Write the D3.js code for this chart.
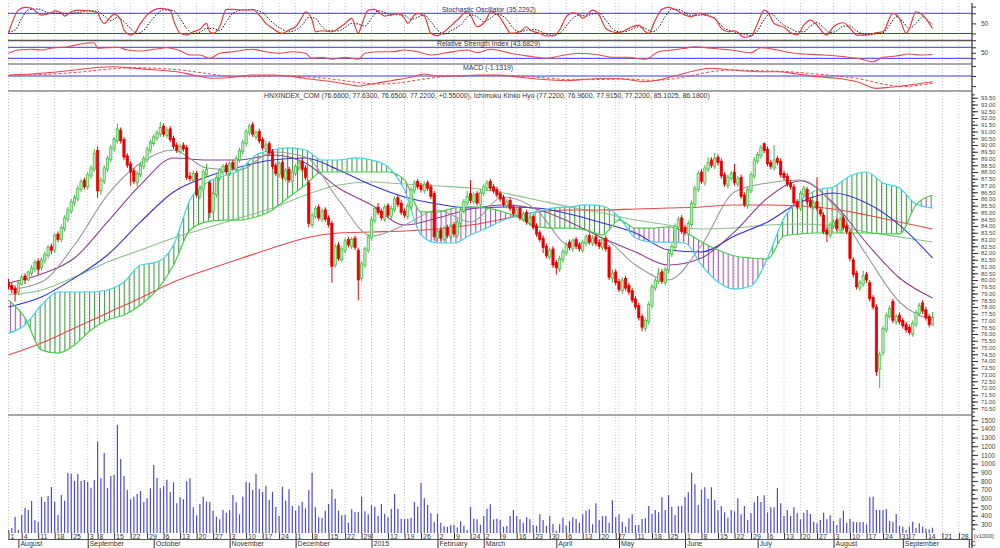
<!DOCTYPE html>
<html>
<head>
<meta charset="utf-8">
<script src="https://cdn.jsdelivr.net/npm/d3@7"></script>
<style>
  body { margin: 0; background: #fff; }
  svg { display: block; font-family: "Liberation Sans", Arial, sans-serif; }
</style>
</head>
<body>
<div id="chart"></div>
<script>
// ---- data ----
// market closed days (trading calendar)
var holidays = ["2014-09-01","2014-09-02","2015-01-01","2015-01-02","2015-02-16","2015-02-17","2015-02-18",
  "2015-02-19","2015-02-20","2015-02-23","2015-04-28","2015-04-29","2015-04-30","2015-05-01","2015-09-02","2015-09-03"];

// first trading day of each week ("" where the picture shows no label)
var weekLabels = ["1","4","11","18","25","3","8","15","22","29","6","13","20","27","3","10","17","24",
  "1","8","15","22","29","","12","19","26","2","9","24","2","9","16","23","30","6","13","20","27",
  "","11","18","25","1","8","15","22","29","6","13","20","27","3","10","17","24","31","7","14","21","28"];
var monthLabels = ["August","September","October","November","December","2015","February","March",
  "April","May","June","July","August","September","C"];

var opens = [79.8,79.6,79.4,79.1,79.7,80.3,80.0,80.5,80.8,81.4,
80.9,81.4,81.8,82.5,82.2,83.4,83.0,83.8,84.5,85.1,
85.7,86.0,86.7,87.4,86.9,87.7,88.2,89.6,86.6,87.3,
88.2,88.9,89.7,90.3,91.1,90.4,89.2,88.6,88.1,87.2,
87.8,88.4,88.9,89.6,90.1,90.5,90.8,91.4,90.7,91.2,
90.5,90.0,89.5,90.0,89.8,87.7,87.4,87.9,86.2,86.7,
87.8,87.2,85.1,86.3,87.5,88.0,88.5,87.9,88.7,88.2,
88.9,89.5,90.1,90.9,91.5,90.6,91.0,90.4,89.7,90.1,
89.5,88.5,87.8,88.7,87.5,88.2,87.3,87.9,88.3,88.8,
88.3,87.2,84.1,84.7,85.4,84.5,85.2,84.6,84.2,81.1,
82.6,81.5,82.2,83.0,82.5,83.1,82.2,80.1,81.1,82.2,
83.1,84.4,85.4,85.1,84.5,85.5,84.7,85.2,86.1,85.7,
85.1,84.7,85.4,86.6,87.3,87.0,86.6,87.2,86.9,86.4,
83.1,83.7,83.0,83.9,83.2,84.1,83.3,84.2,85.1,85.7,
86.4,85.8,86.4,85.6,86.4,86.8,87.3,86.9,86.7,86.4,
86.1,85.5,85.9,85.4,84.8,85.3,84.5,85.0,84.2,84.7,
84.0,83.5,83.1,82.5,81.7,82.3,81.3,80.8,81.5,82.0,
82.8,82.3,83.0,82.6,82.2,82.7,83.3,82.7,83.2,82.8,
82.4,83.1,82.4,80.1,80.6,79.9,79.2,80.1,79.6,79.2,
78.6,78.1,77.3,76.4,76.9,78.1,79.4,79.9,80.6,79.8,
80.7,81.9,82.4,83.9,84.6,83.9,83.4,84.1,85.6,86.7,
88.0,87.2,88.2,88.9,88.4,89.1,88.8,87.8,87.0,87.5,
88.0,87.1,87.6,86.3,85.5,86.6,87.7,88.8,89.2,90.1,
89.7,88.7,88.3,89.0,88.8,87.9,87.7,87.2,86.9,85.8,
85.3,86.3,86.7,85.9,85.4,85.8,85.2,84.8,83.7,83.3,
84.0,84.4,83.7,84.6,84.0,83.5,81.5,80.5,79.4,79.7,
80.4,79.8,78.7,78.0,73.4,74.6,76.3,77.3,78.4,76.9,
77.4,77.0,76.7,76.5,76.0,76.7,77.5,78.3,77.8,77.3,76.66];

var highs = [80.1,79.8,79.6,79.9,80.4,80.5,80.7,81.1,81.5,81.6,
81.7,82.1,82.6,82.7,83.5,83.6,84.1,84.8,85.4,86.0,
86.3,87.0,87.5,87.6,88.0,88.5,89.7,89.9,87.6,88.5,
89.2,90.0,90.6,91.6,91.3,90.6,89.4,88.8,88.3,88.1,
88.7,89.2,89.9,90.4,90.8,91.1,91.7,91.6,91.3,91.4,
90.7,90.2,90.1,90.2,90.0,88.0,88.1,88.1,87.0,88.2,
88.6,87.4,86.6,87.8,88.3,88.6,88.7,88.8,88.9,89.2,
89.8,90.4,91.2,91.6,91.7,91.1,91.2,90.6,90.3,90.3,
89.7,88.7,88.8,88.9,88.3,88.4,88.2,88.6,88.9,89.0,
88.5,87.4,85.0,85.5,85.6,85.3,85.4,84.8,84.4,82.7,
82.8,82.5,83.1,83.2,83.2,83.3,82.4,81.4,82.5,83.4,
84.7,85.5,85.7,85.3,85.6,85.7,85.5,86.2,86.3,85.9,
85.3,85.7,86.9,87.4,87.5,87.2,87.3,87.4,87.1,86.6,
83.8,83.9,84.0,84.1,84.2,84.3,84.5,85.4,86.0,86.6,
87.4,86.5,86.6,86.7,87.1,87.4,87.5,87.1,86.9,86.6,
86.3,86.0,86.1,85.6,85.4,85.5,85.1,85.2,84.8,84.9,
84.2,83.7,83.3,82.7,82.4,82.5,81.5,81.8,82.3,82.8,
83.0,83.1,83.2,82.8,83.0,83.4,83.5,83.3,83.4,83.0,
83.2,83.3,82.6,80.8,80.8,80.1,80.2,80.3,79.8,79.4,
78.8,78.3,77.5,77.2,78.4,79.7,80.2,80.9,80.8,81.0,
82.2,82.7,84.2,84.7,84.8,84.1,84.4,85.9,87.0,88.1,
88.2,88.5,89.1,89.1,89.4,89.3,89.0,88.0,87.8,88.1,
88.6,87.7,87.8,86.5,86.9,88.0,89.1,89.5,90.0,90.2,
89.9,88.9,90.0,89.2,89.0,88.1,87.9,87.4,87.1,86.0,
86.6,87.0,86.9,86.1,85.9,87.6,85.4,85.0,83.9,84.3,
84.5,84.6,84.7,84.8,84.2,83.7,81.7,80.7,80.0,80.7,
80.6,80.0,78.9,78.2,74.7,76.6,77.6,78.1,78.6,77.5,
77.6,77.2,76.9,76.7,77.0,77.8,78.3,78.5,78.0,77.5,77.63];

var lows = [79.3,79.0,78.4,78.9,79.6,79.7,79.9,80.3,80.6,80.4,
80.7,81.2,81.6,81.9,82.0,82.8,82.8,83.6,84.3,84.9,
85.5,85.8,86.5,86.7,86.7,87.5,88.0,86.1,86.3,87.1,
88.0,88.7,89.5,90.1,90.1,88.9,88.3,87.0,87.1,86.9,
87.6,88.2,88.7,89.4,89.9,90.3,90.6,90.6,90.5,90.2,
89.7,89.4,89.3,89.5,87.4,87.3,87.2,86.1,86.0,86.5,
87.6,84.6,84.9,86.1,87.3,87.8,87.8,87.7,88.1,88.0,
88.7,89.3,89.9,90.7,90.6,90.4,90.1,89.6,89.5,89.2,
88.2,87.7,87.6,87.4,87.3,87.2,87.1,87.7,88.1,88.0,
87.4,83.9,83.9,84.5,84.4,84.3,84.3,83.9,79.8,80.9,
81.4,81.3,82.0,82.4,82.3,82.2,78.5,79.9,80.9,82.0,
82.9,84.2,84.8,84.4,84.3,84.6,84.5,85.0,85.4,84.8,
84.6,84.5,85.2,86.4,86.7,86.5,86.4,86.6,86.0,82.9,
82.8,82.9,82.8,83.1,83.0,83.2,83.1,84.0,84.9,85.5,
85.7,85.6,85.5,85.4,86.2,86.6,86.6,86.4,86.1,85.8,
85.4,85.3,85.1,84.7,84.6,84.4,84.3,84.1,84.0,83.7,
83.2,82.8,82.0,81.6,81.5,80.9,80.4,80.6,81.3,81.8,
82.2,82.1,82.3,82.1,82.0,82.5,82.6,82.5,82.5,82.3,
82.2,82.1,80.0,79.8,79.6,79.1,79.0,79.2,78.9,78.3,
77.8,77.0,76.2,76.2,76.7,77.9,79.2,79.7,79.7,79.6,
80.5,81.7,82.2,83.7,83.4,83.3,83.2,83.9,85.4,86.5,
87.1,87.0,88.0,88.3,88.2,88.5,87.5,86.9,86.8,87.3,
87.0,86.9,86.0,85.4,85.3,86.4,87.5,88.6,89.0,89.4,
88.4,88.2,88.1,88.5,87.6,87.4,86.9,86.7,85.5,85.2,
85.1,86.1,85.6,85.3,85.2,85.1,84.7,83.4,82.8,83.1,
83.8,83.6,83.5,83.7,83.4,81.4,80.2,79.3,79.2,79.5,
79.8,78.4,77.8,72.9,72.0,74.4,76.1,77.1,76.8,76.7,
76.7,76.4,76.1,75.9,75.8,76.5,77.3,77.5,77.0,76.5,76.65];

var closes = [79.5,79.3,79.0,79.8,80.2,80.0,80.6,80.9,81.3,80.8,
81.5,81.9,82.4,82.2,83.3,83.0,83.9,84.6,85.2,85.8,
86.1,86.8,87.3,86.9,87.8,88.3,89.4,86.6,87.4,88.3,
89.0,89.8,90.4,91.2,90.3,89.1,88.5,88.0,87.3,87.9,
88.5,89.0,89.7,90.2,90.6,90.9,91.3,90.8,91.1,90.4,
89.9,89.6,89.9,89.7,87.6,87.5,87.9,86.3,86.8,88.0,
88.2,85.0,86.4,87.6,88.1,88.4,88.0,88.6,88.3,89.0,
89.6,90.2,91.0,91.4,90.8,90.9,90.3,89.8,90.0,89.4,
88.4,87.9,88.6,87.6,88.1,87.4,88.0,88.4,88.7,88.2,
87.6,84.2,84.8,85.3,84.6,85.1,84.5,84.1,81.0,82.5,
81.6,82.3,82.9,82.6,83.0,82.4,80.0,81.2,82.3,83.2,
84.5,85.3,85.0,84.6,85.4,84.8,85.3,86.0,85.6,85.0,
84.8,85.5,86.7,87.2,86.9,86.7,87.1,86.8,86.2,83.2,
83.6,83.1,83.8,83.3,84.0,83.4,84.3,85.2,85.8,86.2,
85.9,86.3,85.7,86.5,86.9,87.2,86.8,86.6,86.3,86.0,
85.6,85.8,85.3,84.9,85.2,84.6,84.9,84.3,84.6,83.9,
83.4,83.0,82.4,81.8,82.2,81.1,80.9,81.6,82.1,82.6,
82.4,82.9,82.5,82.3,82.8,83.2,82.8,83.1,82.7,82.5,
83.0,82.3,80.2,80.5,79.8,79.3,80.0,79.4,79.1,78.5,
78.0,77.2,76.5,77.0,78.2,79.5,80.0,80.5,79.9,80.8,
82.0,82.5,84.0,84.5,83.6,83.5,84.2,85.7,86.8,87.9,
87.3,88.3,88.7,88.5,89.0,88.7,87.7,87.1,87.6,87.9,
87.2,87.5,86.2,85.6,86.7,87.8,88.9,89.3,89.8,89.6,
88.6,88.4,88.9,88.7,87.8,87.6,87.1,86.9,85.7,85.4,
86.4,86.8,85.8,85.5,85.7,85.3,84.9,83.6,83.4,84.1,
84.3,83.8,84.5,83.9,83.6,81.6,80.4,79.5,79.8,80.3,
80.0,78.6,78.0,73.2,74.5,76.4,77.4,77.9,77.0,77.3,
76.9,76.6,76.3,76.1,76.8,77.6,78.1,77.7,77.2,76.7,77.22];

// volume, thousands
var volume = [235,258,388,235,407,488,465,569,350,330,
615,557,626,730,557,407,638,572,891,883,
800,880,800,810,787,722,810,1252,830,1121,
718,857,868,1444,1052,857,695,588,618,650,
684,557,600,715,983,834,715,742,815,672,
784,542,611,588,796,830,496,404,534,618,
561,557,457,388,358,465,434,465,638,553,
415,618,791,780,695,880,707,676,745,580,
676,500,396,733,572,703,511,457,515,561,
484,692,895,496,381,373,457,534,703,595,
457,404,407,319,473,442,442,618,450,415,519,
503,396,534,419,381,480,650,480,365,361,
365,376,557,503,780,600,523,427,327,419,
319,280,273,288,296,262,335,284,235,503,
365,358,296,396,480,531,358,365,
350,273,281,396,465,396,358,319,381,358,
292,284,415,350,284,400,304,226,300,376,
284,335,381,361,319,415,457,473,300,542,
350,396,400,319,577,381,415,330,273,369,
415,292,292,361,369,511,419,465,438,611,
465,638,503,407,507,515,611,669,895,761,
523,699,726,595,726,580,465,511,438,376,
465,450,600,415,511,350,427,553,626,557,
634,438,496,496,718,542,396,465,396,496,
427,358,434,465,419,330,311,350,434,358,
404,338,292,369,457,319,365,330,323,323,
327,300,611,618,465,465,465,476,338,330,
419,280,273,235,273,330,254,311,273,250,
240,261];

// Ichimoku cloud borders, one value every 5 trading days
var cloudStep = 5;
var senkouA = [76.07,76.67,78.15,79.11,79.11,79.11,79.26,79.85,81.11,81.33,82.59,85.93,87.19,87.70,88.15,
  89.26,89.63,89.78,89.63,88.89,88.89,89.04,88.89,88.37,86.67,83.33,82.74,82.74,83.33,83.85,84.44,84.81,
  85.04,85.33,85.41,85.56,85.48,84.67,83.11,82.81,82.81,82.74,81.11,79.85,79.33,79.56,81.63,84.59,85.93,
  86.67,86.89,87.70,88.00,87.19,86.81,85.63,85.33];
var senkouB = [78.52,77.19,74.81,74.59,75.19,76.30,77.04,77.41,78.15,79.26,81.11,83.70,84.30,84.44,84.44,
  84.67,85.19,86.15,87.04,88.00,88.00,88.00,88.00,88.00,87.41,85.04,85.04,85.33,85.41,85.33,85.04,84.59,
  83.93,83.85,83.85,83.70,83.33,84.44,83.85,83.85,83.93,83.56,82.81,82.22,81.78,81.63,81.56,83.26,83.41,
  83.48,83.48,83.48,83.48,83.41,83.41,85.56,86.30];

// moving averages, one value every 10 trading days
var maStep = 10;
var maRed = [74.44,75.33,76.44,77.56,78.67,79.85,80.74,81.56,82.37,83.11,83.48,83.56,83.63,83.78,84.07,
  84.52,85.04,85.19,85.19,85.26,85.33,85.41,85.56,85.56,85.48,85.26,84.81,84.30,83.78];
var maBlue = [78.00,78.74,80.15,81.85,84.30,86.52,87.63,88.37,88.89,89.04,88.15,87.04,86.15,85.63,85.33,
  85.41,85.33,84.89,84.22,83.48,82.22,82.07,83.26,84.30,85.78,86.44,85.70,84.07,81.63];
var maPurple = [79.78,80.44,81.63,84.30,87.04,89.04,88.89,88.89,89.26,88.67,86.81,85.56,84.07,84.59,85.26,
  85.56,85.26,84.30,83.11,82.07,81.11,81.63,83.56,86.07,87.33,85.70,82.74,80.15,78.67];
var maGray = [79.26,79.85,82.59,86.30,88.67,89.63,88.30,88.15,89.48,89.11,85.93,83.26,84.07,85.19,84.30,
  86.15,85.19,82.59,82.96,81.11,80.00,82.59,86.52,87.19,87.41,85.56,81.85,78.37,77.04];
var maGreen = [78.89,79.26,80.22,81.33,82.22,83.11,83.85,84.59,85.33,86.30,87.04,87.26,87.11,86.96,86.81,
  86.44,85.93,85.41,84.96,84.44,84.07,83.78,83.85,84.07,84.15,84.00,83.56,83.19,82.81];

// oscillators: [trading day, value]
var stochK = [[0,20.5],[1,50],[3,89.6],[5,97.6],[7,94.7],[9,80],[10,74.8],[13,81.6],[14,87.5],[16,81.6],[17,71.8],
  [19,84.6],[21,89.6],[24,87.5],[27,81.6],[28,60],[29,50],[31,69.7],[32,77.7],[34,60],[35,30.3],[37,15.4],[38,18.4],
  [40,50],[42,74.8],[44,89.6],[46,94.7],[49,89.6],[50,60],[52,20.5],[54,15.4],[56,25.2],[58,32.3],[60,50],[61,25.2],
  [62,20.5],[64,40],[66,91.7],[68,91.7],[72,89.6],[74,91.7],[76,74.8],[78,50],[80,35.3],[83,20.5],[85,30.3],[87,40],
  [89,69.7],[90,84.6],[92,60],[93,25.2],[95,28.2],[98,25.2],[100,35.3],[102,50],[104,65],[106,20.5],[107,45],
  [109,89.6],[111,91.7],[112,84.6],[114,71.8],[116,74.8],[118,80],[120,65],[121,50],[123,74.8],[124,80],[126,71.8],
  [128,20.5],[130,13.4],[132,25.2],[136,60],[139,84.6],[140,74.8],[142,40],[145,65],[146,84.6],[148,77.7],[151,35.3],
  [152,20.5],[155,25.2],[157,40],[158,30.3],[161,20.5],[163,12.5],[165,12.5],[167,30.3],[169,69.7],[171,81.6],
  [173,74.8],[174,65],[177,89.6],[179,74.8],[181,35.3],[183,25.2],[185,22.3],[187,30.3],[189,40],[191,45],[193,25.2],
  [194,20.5],[196,60],[198,91.7],[200,97.6],[202,91.7],[205,74.8],[207,69.7],[209,80],[211,74.8],[214,65],[216,35.3],
  [218,25.2],[220,28.2],[223,8.6],[225,12.5],[227,50],[229,89.6],[230,84.6],[232,50],[233,45],[235,38.3],[237,22.3],
  [239,15.4],[241,45],[243,60],[245,45],[247,20.5],[248,15.4],[250,40],[253,52],[255,35.3],[257,15.4],[260,15.4],
  [263,22.3],[265,25.2],[268,80],[270,65],[272,20.5],[273,35.3],[275,84.6],[277,74.8],[280,35.2]];
var stochD = [[0,25],[2,30],[4,65],[6,90],[9,93],[12,82],[15,80],[18,80],[21,82],[24,88],[27,86],[29,72],[31,58],
  [33,68],[35,55],[37,35],[39,20],[41,30],[43,55],[45,78],[47,90],[50,88],[52,65],[54,35],[56,20],[58,24],[60,35],
  [62,35],[64,28],[66,55],[68,80],[71,90],[74,90],[77,82],[79,62],[81,45],[83,32],[85,25],[87,30],[89,45],[91,68],
  [93,65],[95,40],[97,28],[100,28],[102,38],[104,50],[106,48],[108,42],[110,65],[112,88],[114,82],[116,76],[118,76],
  [120,74],[122,62],[124,68],[126,75],[128,55],[130,30],[132,18],[134,28],[137,45],[140,75],[142,70],[144,55],
  [146,65],[148,78],[151,62],[153,35],[155,25],[157,30],[159,32],[161,27],[163,18],[165,15],[167,20],[169,42],
  [171,65],[173,75],[175,72],[177,78],[179,80],[181,60],[183,35],[185,25],[187,26],[189,33],[191,40],[193,35],
  [195,25],[197,38],[199,70],[201,92],[203,92],[205,82],[207,74],[209,74],[211,77],[213,70],[215,55],[217,35],
  [219,28],[221,22],[223,18],[225,14],[227,28],[229,62],[231,80],[233,62],[235,45],[237,35],[239,25],[241,25],
  [243,42],[245,52],[247,38],[249,22],[251,28],[253,42],[255,42],[257,28],[259,18],[261,16],[263,19],[265,22],
  [267,45],[269,70],[271,55],[273,35],[275,50],[277,70],[279,55],[280,48]];
var rsi = [[0,48.2],[3,60.2],[7,62.7],[10,60.2],[13,66.4],[18,72.2],[22,82],[26,86.7],[27,66.4],[30,68.5],[33,70],
  [36,60.2],[40,56.5],[44,62.7],[48,68.5],[52,57.6],[55,42],[58,42],[61,30],[64,48.2],[68,54],[74,62.7],[78,54],
  [82,48.2],[86,54],[90,48.2],[92,30],[95,33.6],[98,26.4],[102,33.6],[106,26.4],[108,48.2],[112,54],[116,54],
  [120,60.2],[124,54],[128,42],[132,48.2],[139,60.2],[142,50.4],[146,62.7],[148,60.2],[152,48.2],[159,35.8],
  [163,30],[167,38.4],[173,48.2],[179,42],[183,33.6],[187,33.6],[193,26.4],[197,54],[201,60.2],[205,66.4],
  [208,72.2],[213,66.4],[219,60.2],[225,50.4],[228,68.5],[233,60.2],[237,50.4],[241,45.6],[247,42],[251,38.4],
  [257,30],[262,17.7],[265,33.6],[269,38.4],[273,45.6],[276,42],[280,43.7]];
var macd = [[0,0.2],[7,0.4],[18,1.05],[26,1.65],[32,1.85],[38,1.53],[45,1.19],[51,0.85],[56,0.2],[62,-0.46],
  [68,-0.26],[74,0.2],[80,0.2],[86,-0.13],[92,-0.66],[98,-1.13],[104,-1.79],[106,-1.99],[110,-1.59],[116,-0.93],
  [122,-0.26],[126,0.4],[130,0],[136,0],[142,0.2],[148,0.2],[155,-0.26],[161,-0.66],[169,-0.93],[175,-0.66],
  [181,-0.46],[187,-0.66],[193,-1.13],[197,-0.8],[203,0.2],[209,1.19],[213,1.53],[219,1.19],[227,0.85],[233,0.85],
  [239,0.4],[245,-0.13],[251,-0.46],[257,-1.13],[263,-2.45],[267,-2.25],[273,-1.79],[280,-1.13]];
var macdSignal = [[0,0.1],[10,0.3],[22,0.8],[30,1.35],[38,1.65],[46,1.5],[54,1.05],[60,0.5],[66,0.0],[74,-0.15],
  [82,0.05],[90,-0.15],[98,-0.6],[106,-1.3],[112,-1.6],[118,-1.4],[124,-0.8],[130,-0.25],[138,0.05],[146,0.1],
  [155,0.0],[163,-0.4],[171,-0.75],[179,-0.7],[187,-0.6],[195,-0.85],[201,-0.6],[207,0.1],[213,0.85],[219,1.2],
  [227,1.05],[235,0.9],[243,0.5],[251,0.0],[259,-0.7],[265,-1.6],[271,-2.1],[277,-1.75],[280,-1.45]];

// ---- layout ----
var svgWidth = 1000, svgHeight = 548;
var left = 8, right = 972;

var svg = d3.select("#chart").append("svg")
  .attr("width", svgWidth)
  .attr("height", svgHeight);
var defs = svg.append("defs");

// trading calendar -> x positions
var fmt = d3.timeFormat("%Y-%m-%d");
var days = d3.timeDay.range(new Date(2014, 6, 29), new Date(2015, 9, 2))
  .filter(d => d.getDay() > 0 && d.getDay() < 6 && holidays.indexOf(fmt(d)) < 0);
var x = d3.scaleLinear().domain([0, days.length - 1]).range([8.5, 968.8]);

var weekStarts = d3.range(days.length).filter(i => i === 0 ||
  +d3.timeMonday.floor(days[i]) !== +d3.timeMonday.floor(days[i - 1]));
var monthStarts = d3.range(1, days.length).filter(i => days[i].getMonth() !== days[i - 1].getMonth());

// scales for each panel
var yStoch = d3.scaleLinear().domain([0, 100]).range([40.2, 6.6]);
var yRsi = d3.scaleLinear().domain([0, 100]).range([66.55, 39.05]);
var yMacd = d3.scaleLinear().domain([-3, 3]).range([91.1, 60.9]);
var yPrice = d3.scaleLinear().domain([70, 94]).range([415, 91]);
var yVol = d3.scaleLinear().domain([200, 1560]).range([533, 415]);

function clip(id, y0, y1) {
  defs.append("clipPath").attr("id", id).append("rect")
    .attr("x", left).attr("y", y0).attr("width", right - left).attr("height", y1 - y0);
}
clip("cStoch", 3, 40); clip("cRsi", 41, 63.5); clip("cMacd", 64.5, 90.5); clip("cPrice", 91.5, 414.5); clip("cVol", 416, 533);

// vertical dotted grid
svg.append("g").selectAll("line").data(weekStarts).join("line")
  .attr("x1", d => x(d)).attr("x2", d => x(d))
  .attr("y1", 3).attr("y2", 533)
  .attr("stroke", "#b4b4b4").attr("stroke-width", 0.8).attr("stroke-dasharray", "1,2");

// horizontal reference lines in oscillators
var refLines = [yStoch(80), yStoch(20), yRsi(70), yRsi(30), yMacd(0)];
svg.append("g").selectAll("line").data(refLines).join("line")
  .attr("x1", left).attr("x2", right).attr("y1", d => d).attr("y2", d => d)
  .attr("stroke", "#3a3ae0").attr("stroke-width", 1);

// panel separators
svg.append("g").selectAll("line").data([40.5, 64, 91, 415]).join("line")
  .attr("x1", left).attr("x2", right).attr("y1", d => d).attr("y2", d => d)
  .attr("stroke", (d, i) => i === 0 ? "#555" : "#8a8a8a").attr("stroke-width", 1.6);

var pairLine = ys => d3.line().curve(d3.curveMonotoneX).x(d => x(d[0])).y(d => ys(d[1]));

// Stochastic
var gS = svg.append("g").attr("clip-path", "url(#cStoch)");
gS.append("path").attr("d", pairLine(yStoch)(stochD)).attr("fill", "none")
  .attr("stroke", "#111").attr("stroke-width", 1).attr("stroke-dasharray", "1.5,1.5");
gS.append("path").attr("d", pairLine(yStoch)(stochK)).attr("fill", "none")
  .attr("stroke", "#e8393c").attr("stroke-width", 1.2);

// RSI
svg.append("g").attr("clip-path", "url(#cRsi)")
  .append("path").attr("d", pairLine(yRsi)(rsi)).attr("fill", "none")
  .attr("stroke", "#e8474a").attr("stroke-width", 1.1);

// MACD
var gM = svg.append("g").attr("clip-path", "url(#cMacd)");
gM.append("path").attr("d", pairLine(yMacd)(macdSignal)).attr("fill", "none")
  .attr("stroke", "#e8474a").attr("stroke-width", 1).attr("stroke-dasharray", "3,2");
gM.append("path").attr("d", pairLine(yMacd)(macd)).attr("fill", "none")
  .attr("stroke", "#e8474a").attr("stroke-width", 1.1);

// Ichimoku cloud with hatching
function hatch(id, color) {
  defs.append("pattern").attr("id", id).attr("patternUnits", "userSpaceOnUse")
    .attr("width", 4.95).attr("height", 10)
    .append("line").attr("x1", 0.6).attr("x2", 0.6).attr("y1", 0).attr("y2", 10)
    .attr("stroke", color).attr("stroke-width", 1);
}
hatch("hatchUp", "#2f8f2f");
hatch("hatchDown", "#9a45a8");

var cloud = senkouA.map((v, k) => ({ i: k * cloudStep, a: v, b: senkouB[k] }));
var between = d3.area().curve(d3.curveMonotoneX).x(d => x(d.i)).y0(d => yPrice(d.a)).y1(d => yPrice(d.b));
defs.append("clipPath").attr("id", "aboveB").append("path")
  .attr("d", d3.area().curve(d3.curveMonotoneX).x(d => x(d.i)).y0(91).y1(d => yPrice(d.b))(cloud));
defs.append("clipPath").attr("id", "belowB").append("path")
  .attr("d", d3.area().curve(d3.curveMonotoneX).x(d => x(d.i)).y0(415).y1(d => yPrice(d.b))(cloud));

var gP = svg.append("g").attr("clip-path", "url(#cPrice)");
gP.append("g").attr("clip-path", "url(#aboveB)")
  .append("path").attr("d", between(cloud)).attr("fill", "url(#hatchUp)");
gP.append("g").attr("clip-path", "url(#belowB)")
  .append("path").attr("d", between(cloud)).attr("fill", "url(#hatchDown)");

var stepLine = (arr, step) => pairLine(yPrice)(arr.map((v, k) => [k * step, v]));

// moving averages
var maSet = [[maGreen, "#8cbf8c"], [maRed, "#e8474a"], [maBlue, "#3232d2"], [maPurple, "#8e3f8e"], [maGray, "#999"]];
maSet.forEach(function(m) {
  gP.append("path").attr("d", stepLine(m[0], maStep)).attr("fill", "none")
    .attr("stroke", m[1]).attr("stroke-width", 1.1);
});

// cloud borders
gP.append("path").attr("d", stepLine(senkouB, cloudStep)).attr("fill", "none")
  .attr("stroke", "#45cf45").attr("stroke-width", 1.2);
gP.append("path").attr("d", stepLine(senkouA, cloudStep)).attr("fill", "none")
  .attr("stroke", "#3ed5e6").attr("stroke-width", 1.2);

// candles
var candles = closes.map((c, i) => ({ i: i, o: opens[i], h: highs[i], l: lows[i], c: c }));
var up = "#3fb83f", down = "#e60000";
var gC = gP.append("g");
gC.selectAll("line").data(candles).join("line")
  .attr("x1", d => x(d.i)).attr("x2", d => x(d.i))
  .attr("y1", d => yPrice(d.h)).attr("y2", d => yPrice(d.l))
  .attr("stroke", d => d.c >= d.o ? up : down).attr("stroke-width", 1);
gC.selectAll("rect").data(candles).join("rect")
  .attr("x", d => x(d.i) - 1.15).attr("width", 2.3)
  .attr("y", d => yPrice(Math.max(d.o, d.c)))
  .attr("height", d => Math.max(0.8, Math.abs(yPrice(d.o) - yPrice(d.c))))
  .attr("fill", d => d.c >= d.o ? "#b9ecb9" : down)
  .attr("stroke", d => d.c >= d.o ? up : down).attr("stroke-width", 0.7);

// volume
svg.append("g").attr("clip-path", "url(#cVol)")
  .selectAll("line").data(volume).join("line")
  .attr("x1", (d, i) => x(i)).attr("x2", (d, i) => x(i))
  .attr("y1", yVol(200)).attr("y2", d => yVol(d))
  .attr("stroke", "#4b4bdc").attr("stroke-width", 1.2);

// right axes
function rightAxis(scale, values, size, format, fontSize) {
  var g = svg.append("g").attr("transform", `translate(${right},0)`)
    .call(d3.axisRight(scale).tickValues(values).tickSize(size).tickSizeOuter(0).tickPadding(9 - size).tickFormat(format));
  g.select(".domain").remove();
  g.attr("font-family", null).attr("font-size", fontSize || 6.5).attr("color", "#333");
  g.selectAll("text").attr("fill", "#444");
  return g;
}
rightAxis(yPrice, d3.range(281, 376).map(v => v / 4), 3, "");
rightAxis(yPrice, d3.range(141, 188).map(v => v / 2), 6, d3.format(".2f"), 5.8);
rightAxis(yVol, d3.range(250, 1551, 50), 3, "");
rightAxis(yVol, d3.range(300, 1501, 100), 6, d3.format("d"));
rightAxis(yStoch, [0, 20, 50, 80, 100], 4, d => d === 50 ? "50" : "");
rightAxis(yRsi, [30, 50, 70], 4, d => d === 50 ? "50" : "");
rightAxis(yMacd, [-2, 0, 2], 4, "");

svg.append("line").attr("x1", right).attr("x2", right).attr("y1", 3).attr("y2", 548)
  .attr("stroke", "#333").attr("stroke-width", 1.2);

svg.append("text").attr("x", 974).attr("y", 538).attr("font-size", 6).attr("fill", "#444")
  .text("[x1000]");

// bottom date axes
var gW = svg.append("g").attr("transform", "translate(0,533)")
  .call(d3.axisBottom(x).tickValues(weekStarts).tickSize(6).tickFormat((d, k) => weekLabels[k]));
gW.select(".domain").remove();
gW.attr("font-family", null).attr("font-size", 7).attr("color", "#333");
gW.selectAll("text").attr("text-anchor", "start").attr("x", 1.5).attr("y", 0.5).attr("dy", "0.75em").attr("fill", "#333");

svg.append("line").attr("x1", left).attr("x2", right).attr("y1", 539.5).attr("y2", 539.5)
  .attr("stroke", "#555").attr("stroke-width", 1);

var gMo = svg.append("g").attr("transform", "translate(0,539.5)")
  .call(d3.axisBottom(x).tickValues(monthStarts).tickSize(9).tickFormat((d, k) => monthLabels[k]));
gMo.select(".domain").remove();
gMo.attr("font-family", null).attr("font-size", 7).attr("color", "#333");
gMo.selectAll("text").attr("text-anchor", "start").attr("x", 1.5).attr("y", 1.5).attr("dy", "0.75em").attr("fill", "#333");

// panel titles
var titles = [
  [442, 11.5, "Stochastic Oscillator (35.2292)"],
  [437, 46, "Relative Strength Index (43.6829)"],
  [463, 70, "MACD (-1.1319)"],
  [264, 97.5, "HNXINDEX_COM (76.6600, 77.6300, 76.6500, 77.2200, +0.55000), Ichimoku Kinko Hyo (77.2200, 76.9600, 77.9150, 77.2200, 85.1025, 86.1800)"]
];
svg.append("g").selectAll("text").data(titles).join("text")
  .attr("x", d => d[0]).attr("y", d => d[1])
  .attr("font-size", 6.9).attr("fill", "#333")
  .text(d => d[2]);
</script>
</body>
</html>
